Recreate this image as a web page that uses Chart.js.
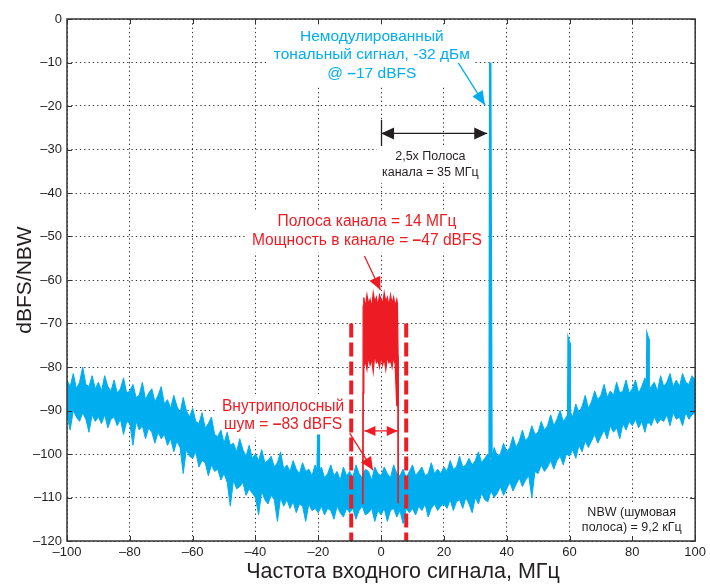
<!DOCTYPE html>
<html>
<head>
<meta charset="utf-8">
<script src="https://cdn.jsdelivr.net/npm/chart.js@4.4.0/dist/chart.umd.min.js"></script>
<style>
html, body { margin: 0; padding: 0; background: #fff; }
#wrap { width: 710px; height: 584px; }
</style>
</head>
<body>
<div id="wrap"><canvas id="spectrum" width="710" height="584"></canvas></div>
<script>
// noise floor envelope, one value per 1 MHz bin from -100 to +100 MHz
const binStart = -100;
const noiseTop = [
  -83.0, -84.5, -81.5, -85.0, -83.5, -80.0, -84.0, -84.5, -82.0, -85.0,
  -83.5, -85.5, -82.0, -84.5, -85.5, -83.0, -86.0, -85.0, -82.5, -86.0,
  -85.5, -84.0, -87.0, -86.5, -83.5, -87.5, -86.0, -85.0, -88.0, -86.5,
  -84.5, -88.5, -87.5, -89.5, -86.5, -89.0, -90.5, -87.0, -90.0, -91.5,
  -89.5, -92.5, -93.0, -90.5, -94.0, -93.0, -91.5, -95.5, -96.0, -94.5,
  -97.5, -95.0, -98.0, -97.5, -99.5, -96.5, -99.0, -100.5, -98.0, -101.0,
  -100.0, -101.5, -99.0, -102.0, -101.5, -100.5, -103.0, -102.0, -99.5, -103.5,
  -102.5, -104.0, -101.5, -103.5, -104.5, -102.0, -104.0, -103.5, -105.0, -102.5,
  -104.5, -103.0, -105.5, -104.5, -102.5, -105.0, -104.0, -106.0, -103.0, -105.0,
  -104.0, -105.5, -102.5, -104.5, -105.5, -103.5, -104.0, -106.0, -103.0, -104.5,
  -105.0, -103.0, -104.5, -105.5, -102.5, -104.5, -105.0, -103.5, -105.5, -104.0,
  -102.5, -105.0, -104.0, -103.0, -105.0, -104.5, -102.0, -104.5, -103.5, -104.5,
  -103.0, -104.0, -101.5, -103.5, -103.0, -100.5, -103.0, -102.5, -101.0, -102.5,
  -101.5, -99.5, -102.0, -101.0, -100.0, -101.5, -98.5, -100.5, -100.0, -97.5,
  -99.5, -98.5, -96.0, -98.5, -97.0, -94.5, -97.0, -96.0, -93.5, -95.5,
  -95.0, -92.5, -94.5, -93.5, -91.0, -93.5, -92.0, -90.0, -92.5, -91.5,
  -90.0, -91.5, -88.5, -90.5, -89.0, -86.5, -89.5, -88.0, -85.5, -87.5,
  -86.5, -84.0, -87.0, -85.5, -86.5, -83.5, -86.0, -85.5, -83.0, -86.0,
  -85.0, -83.0, -86.0, -84.5, -82.5, -85.5, -84.5, -83.5, -85.5, -82.0,
  -84.5, -83.5, -81.5, -84.5, -83.0, -84.5, -81.5, -83.5, -84.0, -82.0, -83.0
];
const noiseBottom = [
  -91.0, -94.5, -90.0, -91.5, -92.5, -90.5, -92.0, -95.0, -91.0, -92.5,
  -91.5, -93.0, -91.0, -94.0, -92.0, -91.5, -93.5, -92.0, -95.5, -92.5,
  -93.0, -98.0, -92.5, -94.5, -93.5, -96.5, -94.0, -95.0, -97.5, -95.0,
  -96.5, -95.5, -98.0, -96.5, -99.5, -97.0, -98.5, -104.5, -99.0, -100.5,
  -101.0, -99.5, -103.0, -101.5, -102.0, -105.0, -102.5, -104.0, -103.5, -106.0,
  -104.5, -106.5, -112.0, -106.0, -108.0, -107.5, -106.5, -109.5, -108.0, -109.0,
  -110.0, -114.0, -108.5, -110.5, -111.5, -109.5, -110.5, -115.5, -110.0, -112.0,
  -110.5, -112.5, -111.0, -113.5, -111.5, -112.0, -115.5, -111.5, -113.0, -112.5,
  -113.5, -112.0, -114.0, -112.5, -113.0, -115.0, -112.0, -113.5, -114.5, -112.5,
  -113.5, -112.5, -115.0, -113.0, -112.0, -114.0, -113.5, -112.5, -115.5, -113.0,
  -114.0, -112.5, -115.5, -113.0, -112.5, -114.5, -113.0, -116.0, -112.5, -113.5,
  -112.5, -114.0, -112.0, -113.0, -111.5, -114.5, -112.5, -111.5, -113.0, -112.0,
  -111.5, -112.5, -110.5, -113.0, -111.0, -110.5, -112.5, -110.0, -111.5, -113.5,
  -110.0, -111.5, -109.0, -110.5, -111.0, -108.5, -110.0, -109.0, -107.5, -109.5,
  -108.0, -106.5, -108.5, -107.0, -105.5, -107.5, -106.0, -105.0, -110.0, -104.0,
  -104.5, -102.5, -104.0, -103.0, -101.5, -103.5, -101.5, -100.5, -102.5, -100.0,
  -100.5, -99.0, -101.0, -98.0, -99.5, -97.0, -98.5, -97.0, -95.5, -97.5,
  -96.0, -94.5, -96.5, -93.5, -95.0, -94.0, -96.5, -93.0, -94.5, -92.5,
  -93.5, -92.0, -94.0, -92.5, -95.0, -92.0, -93.5, -91.5, -93.0, -92.0,
  -92.5, -91.0, -93.5, -90.5, -92.0, -91.5, -93.5, -90.5, -92.0, -91.0, -90.5
];
if (noiseTop.length !== 201 || noiseBottom.length !== 201) throw new Error('noise bins ' + noiseTop.length + ' ' + noiseBottom.length);

// tone at 35 MHz and spurs (null = gap between spikes)
const spurFreq  = [-20.2, -20.0, -19.8, -19.8, 34.55, 34.75, 34.95, 35.15, 35.15, 59.5, 59.7, 59.9, 60.1, 60.1, 84.6, 84.8, 85.0, 85.2];
const spurLevel = [-104, -95.5, -104, null, -101, -10, -10, -101, null, -99, -74, -74.5, -99, null, -93, -73, -73.5, -93];

// modulated channel (14 MHz)
const chanFreq   = [-5.8, -5.7, -5.5, -5.0, -4.5, -4.0, -3.5, -3.0, -2.5, -2.0, -1.5, -1.0, -0.5, 0.0, 0.5, 1.0, 1.5, 2.0, 2.5, 3.0, 3.5, 4.0, 4.5, 5.0, 5.2, 5.4, 5.45];
const chanTop    = [-111.5, -66, -64, -66.5, -63.5, -65.5, -64.5, -66.5, -63, -65, -64, -66, -63.5, -64.5, -65.5, -63, -65, -64, -66, -63.5, -65.5, -64, -66, -64.5, -65.5, -77, -111.3];
const chanBottom = [-111.5, -86, -80, -78.5, -80.5, -77.5, -79.5, -78, -81, -77, -79, -78.5, -80, -77.5, -79.5, -78, -80.5, -77.5, -79, -78.5, -80, -77.5, -79.5, -89, -82, -78, -111.3];

// integration band edges (dashed)
const bandEdges = [-9.5, 8];
const bandLevels = [-70, -120];

const xTicks = [-100, -80, -60, -40, -20, 0, 20, 40, 60, 80, 100];
const yTicks = [0, -10, -20, -30, -40, -50, -60, -70, -80, -90, -100, -110, -120];

const BLUE = '#00aeef';
const RED = '#ed1c24';
const INK = '#231f20';
const FONT = '"Liberation Sans", Arial, Helvetica, sans-serif';

// callout texts: lines, centre frequency, level of first line, line gap, colour, size
const notes = [
  { lines: ['Немодулированный', 'тональный сигнал, -32 дБм', '@ \u201317 dBFS'], f: -2.95, d: -4.1, gap: 18.2, color: BLUE, size: 15.5 },
  { lines: ['2,5x Полоса', 'канала = 35 МГц'], f: 15.7, d: -31.7, gap: 15.5, color: INK, size: 12.5 },
  { lines: ['Полоса канала = 14 МГц', 'Мощность в канале = \u201347 dBFS'], f: -4.5, d: -46.7, gap: 18.2, color: RED, size: 15.6 },
  { lines: ['Внутриполосный', 'шум = \u201383 dBFS'], f: -31.2, d: -89.1, gap: 18.2, color: RED, size: 15.6 },
  { lines: ['NBW (шумовая', 'полоса) = 9,2 кГц'], f: 79.8, d: -113.5, gap: 14.6, color: INK, size: 12.5 }
];

const toPts = (xs, ys) => ys.map((v, i) => ({ x: xs[i], y: v }));
const noiseX = noiseTop.map((_, i) => binStart + i);

const minus = v => String(v).replace('-', '\u2013');

// draws a line centred at cx, with the en dash in bold
function drawLine(ctx, s, cx, cy, size) {
  const parts = s.split('\u2013');
  const normal = size + 'px ' + FONT, bold = 'bold ' + size + 'px ' + FONT;
  const segs = [];
  parts.forEach((p, i) => {
    if (i > 0) segs.push({ t: '\u2013', f: bold });
    if (p) segs.push({ t: p, f: normal });
  });
  let w = 0;
  segs.forEach(sg => { ctx.font = sg.f; sg.w = ctx.measureText(sg.t).width; w += sg.w; });
  let x = cx - w / 2;
  ctx.textAlign = 'left';
  ctx.textBaseline = 'middle';
  segs.forEach(sg => { ctx.font = sg.f; ctx.fillText(sg.t, x, cy); x += sg.w; });
  return w;
}

const annotate = {
  id: 'annotate',
  beforeDatasetsDraw(chart) {
    // white boxes behind callouts hide the grid
    const { ctx, scales: { x, y } } = chart;
    ctx.save();
    ctx.fillStyle = '#fff';
    notes.forEach(n => {
      ctx.font = n.size + 'px ' + FONT;
      const w = Math.max(...n.lines.map(s => ctx.measureText(s).width));
      const cx = x.getPixelForValue(n.f), cy = y.getPixelForValue(n.d);
      const top = cy - n.size * 0.6 - 3, bottom = cy + (n.lines.length - 1) * n.gap + n.size * 0.6 + 3;
      ctx.fillRect(cx - w / 2 - 5, top, w + 10, bottom - top);
    });
    ctx.restore();
  },
  afterDraw(chart) {
    const { ctx, chartArea: a, scales: { x, y } } = chart;
    const px = f => x.getPixelForValue(f);
    const py = d => y.getPixelForValue(d);

    // frame and inner ticks
    ctx.save();
    ctx.strokeStyle = '#333';
    ctx.lineWidth = 1;
    ctx.beginPath();
    xTicks.forEach(t => {
      const p = Math.round(px(t)) + 0.5;
      ctx.moveTo(p, a.top); ctx.lineTo(p, a.top + 5);
      ctx.moveTo(p, a.bottom); ctx.lineTo(p, a.bottom - 5);
    });
    yTicks.forEach(t => {
      const p = Math.round(py(t)) + 0.5;
      ctx.moveTo(a.left, p); ctx.lineTo(a.left + 5, p);
      ctx.moveTo(a.right, p); ctx.lineTo(a.right - 5, p);
    });
    ctx.stroke();
    ctx.lineWidth = 1.5;
    ctx.strokeRect(a.left, a.top, a.right - a.left, a.bottom - a.top);
    ctx.restore();

    const head = (x1, y1, x2, y2, len, half, color) => {
      const ang = Math.atan2(y2 - y1, x2 - x1);
      ctx.fillStyle = color;
      ctx.beginPath();
      ctx.moveTo(x2, y2);
      ctx.lineTo(x2 - len * Math.cos(ang) + half * Math.sin(ang), y2 - len * Math.sin(ang) - half * Math.cos(ang));
      ctx.lineTo(x2 - len * Math.cos(ang) - half * Math.sin(ang), y2 - len * Math.sin(ang) + half * Math.cos(ang));
      ctx.closePath();
      ctx.fill();
    };
    const arrow = (f1, d1, f2, d2, color, both, len, half) => {
      const x1 = px(f1), y1 = py(d1), x2 = px(f2), y2 = py(d2);
      ctx.strokeStyle = color;
      ctx.lineWidth = 1.3;
      ctx.beginPath(); ctx.moveTo(x1, y1); ctx.lineTo(x2, y2); ctx.stroke();
      head(x1, y1, x2, y2, len, half, color);
      if (both) head(x2, y2, x1, y1, len, half, color);
    };

    ctx.save();
    notes.forEach(n => {
      ctx.fillStyle = n.color;
      n.lines.forEach((s, i) => drawLine(ctx, s, px(n.f), py(n.d) + i * n.gap, n.size));
    });

    arrow(24.6, -10.1, 33.1, -19.8, BLUE, false, 14, 6);

    // 2.5x channel bandwidth span
    ctx.strokeStyle = INK;
    ctx.lineWidth = 1.3;
    ctx.beginPath(); ctx.moveTo(Math.round(px(0)) + 0.5, py(-23.2)); ctx.lineTo(Math.round(px(0)) + 0.5, py(-29.2)); ctx.stroke();
    arrow(0, -26.3, 33.8, -26.3, INK, true, 13, 6);

    arrow(-5.3, -54.5, -0.2, -62.3, RED, false, 13, 6);
    arrow(-10.0, -95.2, -2.6, -103.7, RED, false, 13, 6);
    arrow(-5.3, -94.7, 5.3, -94.7, RED, true, 11, 5);

    // x axis title, set slightly right of the plot centre as in the original
    ctx.fillStyle = INK;
    ctx.font = '21.5px ' + FONT;
    ctx.textAlign = 'center';
    ctx.textBaseline = 'middle';
    ctx.fillText('Частота входного сигнала, МГц', 403, 572.5);
    ctx.restore();
  }
};

new Chart(document.getElementById('spectrum'), {
  type: 'scatter',
  data: {
    datasets: [
      { data: toPts(noiseX, noiseTop), borderColor: BLUE, backgroundColor: BLUE, borderWidth: 1, fill: '+1', order: 3 },
      { data: toPts(noiseX, noiseBottom), borderColor: BLUE, borderWidth: 1, fill: false, order: 3 },
      { data: toPts(chanFreq, chanTop), borderColor: RED, backgroundColor: RED, borderWidth: 1.3, fill: '+1', order: 1 },
      { data: toPts(chanFreq, chanBottom), borderColor: RED, borderWidth: 1.3, fill: false, order: 1 },
      { data: toPts(spurFreq, spurLevel), borderColor: BLUE, borderWidth: 2.5, fill: false, spanGaps: false, order: 2 },
      { data: toPts([bandEdges[0], bandEdges[0]], bandLevels), borderColor: RED, borderWidth: 4, borderDash: [14, 5], fill: false, order: 0 },
      { data: toPts([bandEdges[1], bandEdges[1]], bandLevels), borderColor: RED, borderWidth: 4, borderDash: [14, 5], fill: false, order: 0 }
    ]
  },
  options: {
    responsive: false,
    animation: false,
    devicePixelRatio: 1,
    showLine: true,
    elements: { point: { radius: 0, hoverRadius: 0 }, line: { tension: 0 } },
    layout: { padding: { top: 19, right: 12, left: 0, bottom: 0 } },
    plugins: { legend: { display: false }, tooltip: { enabled: false } },
    scales: {
      x: {
        type: 'linear', min: -100, max: 100,
        afterFit: s => { s.height = 43; },
        afterBuildTicks: s => { s.ticks = xTicks.map(v => ({ value: v })); },
        ticks: { color: INK, font: { family: FONT, size: 13 }, padding: 4, maxRotation: 0, callback: minus },
        grid: { color: '#333', lineWidth: 1, drawTicks: false },
        border: { display: false, dash: [1.3, 3] }
      },
      y: {
        min: -120, max: 0,
        afterFit: s => { s.width = 67; },
        afterBuildTicks: s => { s.ticks = yTicks.map(v => ({ value: v })); },
        ticks: { color: INK, font: { family: FONT, size: 13 }, padding: 5, callback: minus },
        grid: { color: '#333', lineWidth: 1, drawTicks: false },
        border: { display: false, dash: [1.3, 3] },
        title: { display: true, text: 'dBFS/NBW', color: INK, font: { family: FONT, size: 21, lineHeight: 1.2 }, padding: { top: 13, bottom: 0 } }
      }
    }
  },
  plugins: [annotate]
});
</script>
</body>
</html>
